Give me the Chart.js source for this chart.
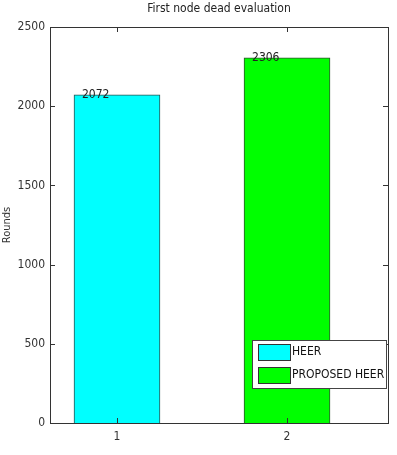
<!DOCTYPE html>
<html>
<head>
<meta charset="utf-8">
<script src="https://cdn.jsdelivr.net/npm/chart.js@4.4.0/dist/chart.umd.min.js"></script>
<style>
  html, body { margin: 0; padding: 0; background: #fff; }
  #wrap { width: 397px; height: 455px; }
</style>
</head>
<body>
<div id="wrap"><canvas id="myChart1"></canvas></div>
<script>
'use strict';
{
  var categories = [1, 2];
  var seriesNames = ['HEER', 'PROPOSED HEER'];
  var heerValues = [2072];
  var proposedValues = [2306];
  var yTicks = [0, 500, 1000, 1500, 2000, 2500];

  var FONT = "'Liberation Sans Narrow', 'DejaVu Sans Condensed', Arial, sans-serif";

  // matlab style box, inner ticks, value labels and legend inside the axes
  var matlabAxes = {
    id: 'matlabAxes',
    afterDatasetsDraw: function (chart) {
      var c = chart.ctx, a = chart.chartArea;
      var xs = chart.scales.x, ys = chart.scales.y;
      c.save();
      c.strokeStyle = '#333';
      c.lineWidth = 1;
      c.strokeRect(Math.round(a.left) + 0.5, Math.round(a.top) + 0.5,
        Math.round(a.right - a.left), Math.round(a.bottom - a.top));
      c.beginPath();
      categories.forEach(function (v) {
        var px = Math.round(xs.getPixelForValue(v)) + 0.5;
        c.moveTo(px, a.top); c.lineTo(px, a.top + 5);
        c.moveTo(px, a.bottom); c.lineTo(px, a.bottom - 5);
      });
      yTicks.forEach(function (v) {
        var py = Math.round(ys.getPixelForValue(v)) + 0.5;
        c.moveTo(a.left, py); c.lineTo(a.left + 5, py);
        c.moveTo(a.right, py); c.lineTo(a.right - 5, py);
      });
      c.stroke();

      // value labels
      c.font = '12px ' + FONT;
      c.fillStyle = '#222';
      c.textAlign = 'left';
      c.textBaseline = 'middle';
      chart.data.datasets.forEach(function (ds, i) {
        chart.getDatasetMeta(i).data.forEach(function (bar, j) {
          c.fillText(String(ds.data[j].y), bar.x - 35, bar.y);
        });
      });

      // legend
      var lx = 252, ly = 340, lw = 134, lh = 48;
      c.fillStyle = '#fff';
      c.fillRect(lx, ly, lw, lh);
      c.strokeStyle = '#444';
      c.strokeRect(lx + 0.5, ly + 0.5, lw, lh);
      chart.data.datasets.forEach(function (ds, i) {
        var y0 = ly + 4 + i * 23;
        c.fillStyle = ds.backgroundColor;
        c.fillRect(lx + 6, y0, 32, 16);
        c.strokeStyle = '#333';
        c.strokeRect(lx + 6.5, y0 + 0.5, 32, 16);
        c.fillStyle = '#111';
        c.fillText(ds.label, lx + 40, y0 + 8);
      });
      c.restore();
    }
  };

  var ctx = document.getElementById('myChart1').getContext('2d');

  new Chart(ctx, {
    type: 'bar',
    data: {
      datasets: [{
        label: seriesNames[0],
        data: [{ x: categories[0], y: heerValues[0] }],
        backgroundColor: '#00FFFF',
        borderColor: '#2f4f4f',
        borderWidth: 1,
      }, {
        label: seriesNames[1],
        data: [{ x: categories[1], y: proposedValues[0] }],
        backgroundColor: '#00FF00',
        borderColor: '#2f4f2f',
        borderWidth: 1,
      }],
    },
    options: {
      responsive: true,
      maintainAspectRatio: false,
      animation: false,
      layout: { padding: { left: 0, right: 9, top: 0, bottom: 0 } },
      grouped: false,
      barThickness: 86,
      plugins: {
        legend: { display: false },
        tooltip: { enabled: false },
        title: {
          display: true,
          fullSize: false,
          text: 'First node dead evaluation',
          color: '#222',
          font: { family: FONT, size: 12, weight: 'normal' },
          padding: { top: 2, bottom: 10.6 },
        },
      },
      scales: {
        x: {
          type: 'linear',
          min: 0.606,
          max: 2.594,
          offset: false,
          afterBuildTicks: function (scale) {
            scale.ticks = categories.map(function (v) { return { value: v }; });
          },
          afterFit: function (scale) { scale.height = 32; },
          grid: { display: false, drawTicks: false, offset: false },
          border: { display: false },
          ticks: {
            padding: 7,
            color: '#333',
            font: { family: FONT, size: 12 },
          },
        },
        y: {
          min: 0,
          max: 2500,
          afterBuildTicks: function (scale) {
            scale.ticks = yTicks.map(function (v) { return { value: v }; });
          },
          afterFit: function (scale) { scale.width = 50; },
          grid: { display: false, drawTicks: false },
          border: { display: false },
          title: {
            display: true,
            text: 'Rounds',
            color: '#333',
            font: { family: FONT, size: 11 },
            padding: { top: 1, bottom: 0 },
          },
          ticks: {
            padding: 5,
            color: '#333',
            font: { family: FONT, size: 12 },
            callback: function (value) { return String(value); },
          },
        },
      },
    },
    plugins: [matlabAxes],
  });
}
</script>
</body>
</html>
